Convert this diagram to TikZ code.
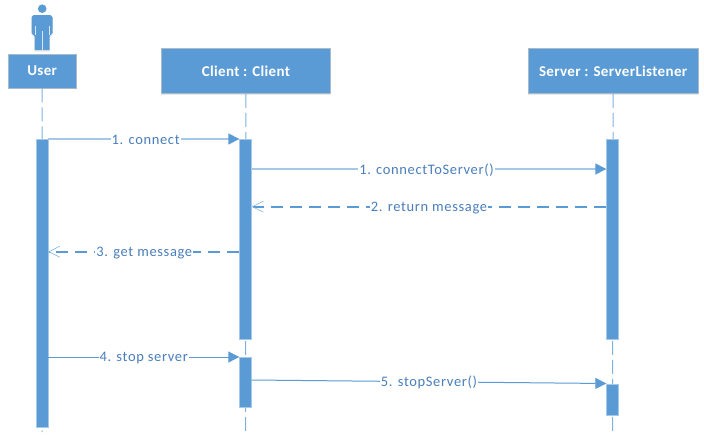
\documentclass[tikz,border=0pt]{standalone}
\usepackage{fontspec}
\setmainfont{Carlito}
\usetikzlibrary{arrows.meta,shadows,calc}
\definecolor{blue1}{HTML}{5B9BD5}
\definecolor{blue2}{HTML}{A6C8E8}
\definecolor{blue3}{HTML}{7FB2E0}
\definecolor{txt}{HTML}{4A7EBB}
\definecolor{edge}{HTML}{A9BACB}
\tikzset{
  head/.style={draw=edge,line width=.8pt,fill=blue1,text=white,font=\fontsize{15}{17}\selectfont\bfseries\addfontfeature{LetterSpace=2.3},inner sep=0pt,anchor=north west,
    drop shadow={opacity=.18,shadow xshift=0pt,shadow yshift=-1.5pt}},
  act/.style={draw=blue2,line width=.4pt,fill=blue1,inner sep=0pt,minimum width=12pt,anchor=north},
  life/.style={draw=blue3,line width=1pt,dash pattern=on 14pt off 5pt},
  msglabel/.style={fill=white,text=txt,font=\fontsize{14.5}{16}\selectfont\addfontfeature{LetterSpace=4.5},inner sep=1pt,yshift=-1pt},
  solidthick/.style={draw=blue2,line width=1.6pt,-{Triangle[length=11pt,width=11pt,color=blue1]}},
  solidthin/.style={draw=blue1,line width=1pt,-{Triangle[length=11pt,width=11pt,color=blue1]}},
  reply/.style={draw=blue1,line width=1.6pt,dash pattern=on 12pt off 7pt,-{Straight Barb[length=11pt,width=11pt,line width=.6pt,color=blue3]}}
}
\begin{document}
\begin{tikzpicture}[x=1pt,y=-1pt]
\useasboundingbox (0,0) rectangle (704,445);
\fill[white] (0,0) rectangle (704,445);
% actor
\fill[blue1,drop shadow={opacity=.18,shadow xshift=0pt,shadow yshift=-1.5pt}] (31.5,17) -- ++(2,-2) -- (50.5,15) -- ++(2,2) -- (52.5,33) -- (49.5,36) -- (49.5,50) -- (34.5,50) -- (34.5,36) -- (31.5,33) -- cycle;
\fill[blue1] (42.2,8.7) circle (4.3);
\draw[white!75!blue1,line width=.6pt] (42,31) -- (42,50);
\draw[white!75!blue1,line width=.6pt] (35,26) -- (35,35) (49,26) -- (49,35);
% lifelines (named ends)
\node[head,minimum width=67.5pt,minimum height=33.5pt] (user) at (8,54) {User};
\node[head,minimum width=169pt,minimum height=45pt] (client) at (161,48) {Client : Client};
\node[head,minimum width=169.5pt,minimum height=45pt] (server) at (528,48) {Server : ServerListener};
\coordinate (userend) at (42,432);
\coordinate (clientend) at (245.5,432);
\coordinate (serverend) at (612.5,432);
\draw[life] (user.south) -- (userend);
\draw[life] (client.south) -- (clientend);
\draw[life] (server.south) -- (serverend);
% activations
\node[act,minimum height=288pt] (ua) at (42,139) {};
\node[act,minimum height=200pt] (ca) at (245.5,139) {};
\node[act,minimum height=50pt] (cb) at (245.5,357) {};
\node[act,minimum height=200pt] (sa) at (612.5,139) {};
\node[act,minimum height=31pt] (sb) at (612.5,383.5) {};
% messages
\draw[solidthick] (ua.north east) -- node[msglabel,pos=.51] {1. connect} (ca.north west);
\draw[solidthick] ([yshift=-30pt]ca.north east) -- node[msglabel,pos=.493] {1. connectToServer()} ([yshift=-30pt]sa.north west);
\draw[reply] ([yshift=-67.7pt]sa.north west) -- node[msglabel,pos=.5] {2. return message} ([yshift=-67.7pt]ca.north east);
\draw[reply] ([yshift=-112.7pt]ca.north west) -- node[msglabel,pos=.497] {3. get message} ([yshift=-112.7pt]ua.north east);
\draw[solidthin] ([yshift=-218pt]ua.north east) -- node[msglabel,pos=.5] {4. stop server} (cb.north west);
\draw[solidthin] ([yshift=-23pt]cb.north east) -- node[msglabel,pos=.5] {5. stopServer()} (sb.north west);
\end{tikzpicture}
\end{document}
